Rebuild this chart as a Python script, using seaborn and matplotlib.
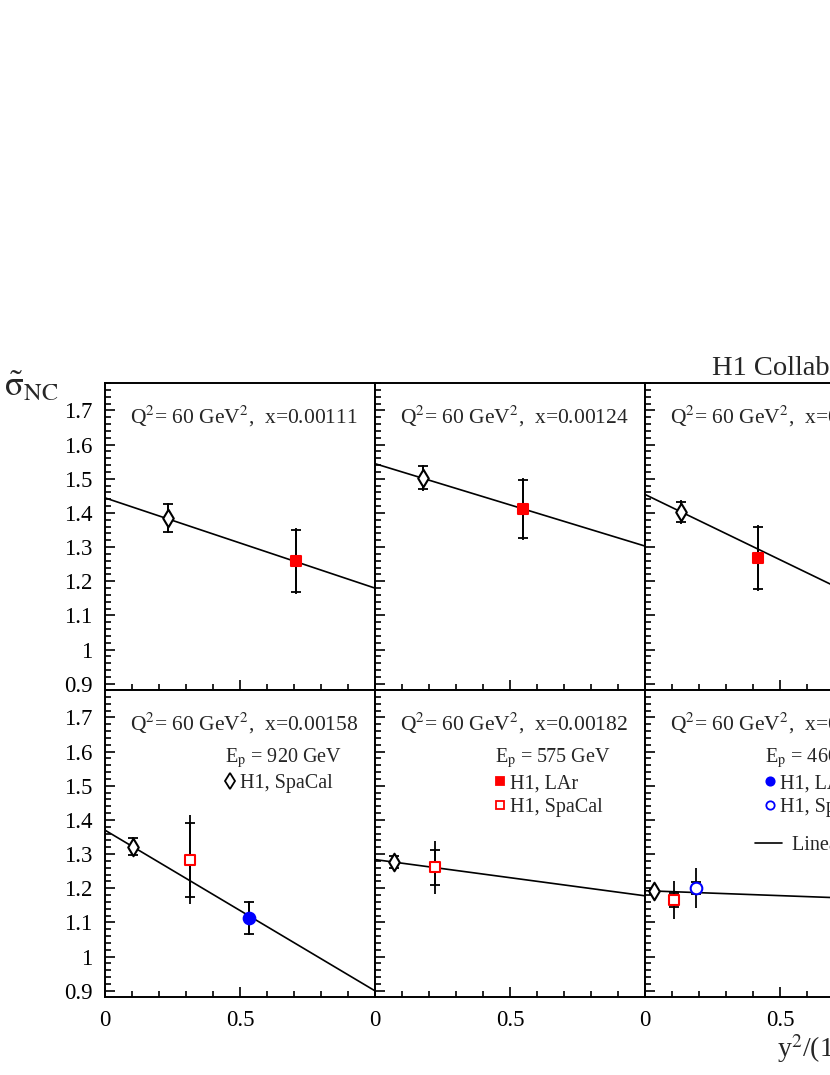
import numpy as np
import pandas as pd
import matplotlib
matplotlib.use('Agg')
import matplotlib.pyplot as plt
from matplotlib.ticker import MultipleLocator, FixedLocator
import seaborn as sns

# panel labels (x values) and linear fits  sigma = a + b * y^2/Y+
panel_x = ['0.00111', '0.00124', '0.00142', '0.00158', '0.00182', '0.00221']
fit_a = [1.444, 1.544, 1.454, 1.370, 1.284, 1.193]
fit_b = [-0.264, -0.241, -0.382, -0.470, -0.106, -0.029]

# Ep = 920 GeV, SpaCal (one point per panel)
sp920_panel = [0, 1, 2, 3, 4, 5]
sp920_x = [0.233, 0.179, 0.132, 0.104, 0.070, 0.033]
sp920_y = [1.385, 1.503, 1.403, 1.322, 1.276, 1.191]
sp920_stat = [0.040, 0.034, 0.030, 0.024, 0.018, 0.008]
sp920_tot = [0.045, 0.038, 0.034, 0.028, 0.021, 0.011]

# Ep = 575 GeV, LAr
lar575_panel = [0, 1, 2]
lar575_x = [0.707, 0.549, 0.420]
lar575_y = [1.259, 1.412, 1.268]
lar575_stat = [0.091, 0.085, 0.092]
lar575_tot = [0.097, 0.090, 0.097]

# Ep = 575 GeV, SpaCal
sp575_panel = [3, 4, 5]
sp575_x = [0.314, 0.222, 0.109]
sp575_y = [1.283, 1.261, 1.165]
sp575_stat = [0.108, 0.050, 0.021]
sp575_tot = [0.130, 0.078, 0.056]

# Ep = 460 GeV, LAr
lar460_panel = [3]
lar460_x = [0.533]
lar460_y = [1.113]
lar460_stat = [0.046]
lar460_tot = [0.051]

# Ep = 460 GeV, SpaCal
sp460_panel = [5]
sp460_x = [0.189]
sp460_y = [1.200]
sp460_stat = [0.018]
sp460_tot = [0.058]

ytick_vals = [0.9, 1.0, 1.1, 1.2, 1.3, 1.4, 1.5, 1.6, 1.7]
ytick_labels = ['0.9', '1', '1.1', '1.2', '1.3', '1.4', '1.5', '1.6', '1.7']
xtick_vals = [0, 0.5, 1]
xtick_labels = ['0', '0.5', '']

frames = []
for name, p, x, y, st, tt in [
        ('sp920', sp920_panel, sp920_x, sp920_y, sp920_stat, sp920_tot),
        ('lar575', lar575_panel, lar575_x, lar575_y, lar575_stat, lar575_tot),
        ('sp575', sp575_panel, sp575_x, sp575_y, sp575_stat, sp575_tot),
        ('lar460', lar460_panel, lar460_x, lar460_y, lar460_stat, lar460_tot),
        ('sp460', sp460_panel, sp460_x, sp460_y, sp460_stat, sp460_tot)]:
    frames.append(pd.DataFrame({'series': name, 'panel': p, 'x': x, 'y': y, 'stat': st, 'tot': tt}))
df = pd.concat(frames, ignore_index=True)

styles = {
    'sp920': dict(marker='d', s=80, face='white', edge='black', ms=8),
    'lar575': dict(marker='s', s=55, face='red', edge='red', ms=6),
    'sp575': dict(marker='s', s=55, face='white', edge='red', ms=6),
    'lar460': dict(marker='o', s=70, face='blue', edge='blue', ms=6),
    'sp460': dict(marker='o', s=70, face='white', edge='blue', ms=6),
}

sns.set_style('ticks')
plt.rcParams['font.family'] = ['Liberation Serif', 'DejaVu Serif']
plt.rcParams['mathtext.fontset'] = 'stix'

fig = plt.figure(figsize=(8.3, 10.75), dpi=100)
W, H = 830.0, 1075.0
col_left = [105, 375, 645]
row_top = [383, 690]
pw, ph = 270, 307

axes = []
for r in range(2):
    for c in range(3):
        ax = fig.add_axes([col_left[c] / W, 1 - (row_top[r] + ph) / H, pw / W, ph / H])
        axes.append(ax)

for i, ax in enumerate(axes):
    xs = np.array([0.0, 1.0])
    sns.lineplot(x=xs, y=fit_a[i] + fit_b[i] * xs, ax=ax, color='black', lw=1.2, zorder=2)
    for name, st in styles.items():
        d = df[(df.panel == i) & (df.series == name)]
        if d.empty:
            continue
        ax.vlines(d.x, d.y - d.tot, d.y + d.tot, color='black', lw=1.3, zorder=3)
        ax.errorbar(d.x, d.y, yerr=d.stat, fmt='none', ecolor='black',
                    elinewidth=1.3, capsize=3.6, capthick=1.3, zorder=3)
        sns.scatterplot(data=d, x='x', y='y', ax=ax, marker=st['marker'], s=st['s'],
                        color=st['face'], edgecolor=st['edge'], linewidth=1.5,
                        zorder=4, legend=False)

    ax.set_xlim(0, 1)
    ax.set_ylim(0.882, 1.78)
    ax.set_xlabel('')
    ax.set_ylabel('')
    ax.yaxis.set_major_locator(FixedLocator(ytick_vals))
    ax.yaxis.set_minor_locator(MultipleLocator(0.02))
    ax.xaxis.set_major_locator(FixedLocator(xtick_vals))
    ax.xaxis.set_minor_locator(MultipleLocator(0.1))
    ax.tick_params(which='both', direction='in', top=False, right=False, width=1.2,
                   labelsize=16.5, pad=9, colors='black')
    ax.tick_params(which='major', length=7.5)
    ax.tick_params(which='minor', length=4)
    if i % 3 == 0:
        ax.set_yticklabels(ytick_labels)
    else:
        ax.set_yticklabels([])
    if i >= 3:
        ax.set_xticklabels(xtick_labels)
    else:
        ax.set_xticklabels([])
    for sp in ax.spines.values():
        sp.set_linewidth(1.4)
        sp.set_color('black')
        sp.set_visible(True)

    ax.text(0.093, 0.867, r'Q$^{2}$= 60 GeV$^{2}$,  x=' + panel_x[i], transform=ax.transAxes,
            fontsize=15.5, va='baseline', ha='left')

# in-panel legends
legend_rows = {
    3: ('920', [('sp920', 'H1, SpaCal')]),
    4: ('575', [('lar575', 'H1, LAr'), ('sp575', 'H1, SpaCal')]),
    5: ('460', [('lar460', 'H1, LAr'), ('sp460', 'H1, SpaCal')]),
}
row_y = [0.68, 0.604]
for i, (ep, rows) in legend_rows.items():
    ax = axes[i]
    ax.text(0.444, 0.766, r'E$_{\rm p}$ = ' + ep + ' GeV', transform=ax.transAxes,
            fontsize=14.5, va='baseline')
    for k, (name, label) in enumerate(rows):
        st = styles[name]
        ax.plot([0.463], [row_y[k] + 0.022], transform=ax.transAxes, marker=st['marker'],
                ms=st['ms'], mfc=st['face'], mec=st['edge'], mew=1.3, ls='none')
        ax.text(0.50, row_y[k], label, transform=ax.transAxes, fontsize=14.5, va='baseline')
axes[5].plot([0.407, 0.506], [0.479 + 0.022] * 2, transform=axes[5].transAxes,
             color='black', lw=1.2)
axes[5].text(0.544, 0.479, 'Linear fit', transform=axes[5].transAxes, fontsize=14.5,
             va='baseline')

fig.text(712 / W, 1 - 375 / H, 'H1 Collaboration', fontsize=20.5, va='baseline')
fig.text(4 / W, 1 - 396 / H, r'$\tilde{\mathrm{\sigma}}_{\rm NC}$', fontsize=25, va='baseline')
fig.text(777 / W, 1 - 1057 / H, r'y$^{2}$/(1+(1-y)$^{2}$)', fontsize=20, va='baseline')

fig.savefig('out.png', dpi=100)
plt.close(fig)
